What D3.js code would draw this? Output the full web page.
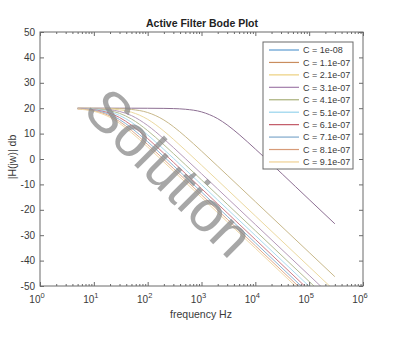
<!DOCTYPE html>
<html>
<head>
<meta charset="utf-8">
<script src="https://d3js.org/d3.v7.min.js"></script>
<style>
    body { margin: 0; background: #fff; }
    text { font-family: "Liberation Sans", Arial, sans-serif; }
</style>
</head>
<body>
<div id="chart"></div>
<script>
// frequencies (Hz) sampled along every curve
var freqs = [5, 10, 20, 30, 50, 100, 200, 300, 500, 1000, 2000, 3000, 5000, 1e4, 1e5, 3e5];

var labels = ['C = 1e-08', 'C = 1.1e-07', 'C = 2.1e-07', 'C = 3.1e-07', 'C = 4.1e-07',
    'C = 5.1e-07', 'C = 6.1e-07', 'C = 7.1e-07', 'C = 8.1e-07', 'C = 9.1e-07'];

// magnitude in dB for each C
var mag0 = [20.00, 20.00, 20.00, 20.00, 20.00, 19.98, 19.93, 19.85, 19.59, 18.55, 15.88, 13.42, 9.64, 3.93, -15.96, -25.51];
var mag1 = [19.99, 19.98, 19.92, 19.82, 19.51, 18.30, 15.36, 12.76, 8.88, 3.12, -2.83, -6.34, -10.77, -16.79, -36.79, -46.33];
var mag2 = [19.98, 19.93, 19.71, 19.37, 18.43, 15.62, 10.99, 7.78, 3.51, -2.43, -8.43, -11.95, -16.39, -22.41, -42.41, -51.95];
var mag3 = [19.96, 19.84, 19.39, 18.72, 17.10, 13.19, 7.91, 4.54, 0.18, -5.80, -11.81, -15.33, -19.77, -25.79, -45.79, -55.33];
var mag4 = [19.93, 19.72, 18.98, 17.97, 15.75, 11.17, 5.60, 2.17, -2.22, -8.23, -14.24, -17.76, -22.20, -28.22, -48.22, -57.76];
var mag5 = [19.89, 19.58, 18.51, 17.16, 14.48, 9.48, 3.76, 0.30, -4.11, -10.12, -16.14, -19.66, -24.09, -30.11, -50.11, -59.66];
var mag6 = [19.84, 19.40, 17.99, 16.34, 13.31, 8.04, 2.24, -1.25, -5.66, -11.67, -17.69, -21.21, -25.65, -31.67, -51.67, -61.21];
var mag7 = [19.79, 19.21, 17.46, 15.54, 12.24, 6.80, 0.94, -2.56, -6.98, -12.99, -19.01, -22.53, -26.97, -32.99, -52.99, -62.53];
var mag8 = [19.73, 19.00, 16.91, 14.77, 11.26, 5.70, -0.20, -3.69, -8.12, -14.13, -20.15, -23.68, -28.11, -34.13, -54.13, -63.68];
var mag9 = [19.66, 18.77, 16.37, 14.04, 10.37, 4.72, -1.20, -4.70, -9.13, -15.14, -21.17, -24.69, -29.12, -35.14, -55.14, -64.69];
var mags = [mag0, mag1, mag2, mag3, mag4, mag5, mag6, mag7, mag8, mag9];

var xTicks = [1, 10, 100, 1000, 1e4, 1e5, 1e6];
var yTicks = [-50, -40, -30, -20, -10, 0, 10, 20, 30, 40, 50];

var legendColors = ['#5b9bd0', '#c98d5e', '#ecd07e', '#a27daa', '#a9b07a', '#96d3ec', '#c25866', '#7fa8cc', '#d79b78', '#efd193'];
var lineColors = ['#8d6f93', '#c8b88a', '#ecd9a0', '#b59ab9', '#b3bd93', '#a9dbef', '#cf7a85', '#8fb3d2', '#e0ab8d', '#f0d9a8'];

var chart_width = 400;
var chart_height = 342;
var pLeft = 40, pRight = 363, pTop = 32, pBottom = 286;

var svg = d3.select('#chart')
    .append('svg')
    .attr('width', chart_width)
    .attr('height', chart_height);

var xScale = d3.scaleLog()
    .domain([1, 1e6])
    .range([pLeft, pRight]);

var yScale = d3.scaleLinear()
    .domain([-50, 50])
    .range([pBottom, pTop]);

svg.append('clipPath')
    .attr('id', 'clip')
    .append('rect')
    .attr('x', pLeft)
    .attr('y', pTop)
    .attr('width', pRight - pLeft)
    .attr('height', pBottom - pTop);

// curves
var line = d3.line()
    .x(function(d) { return xScale(d[0]); })
    .y(function(d) { return yScale(d[1]); })
    .curve(d3.curveMonotoneX);

svg.append('g')
    .attr('clip-path', 'url(#clip)')
    .selectAll('path')
    .data(mags)
    .enter()
    .append('path')
    .attr('d', function(m) {
        return line(freqs.map(function(f, i) { return [f, m[i]]; }));
    })
    .attr('fill', 'none')
    .attr('stroke', function(d, i) { return lineColors[i]; })
    .attr('stroke-width', 1);

// axes (box with inward ticks, like matlab)
var axisColor = '#6a6a6a';
var textColor = '#3a3a3a';

svg.append('rect')
    .attr('x', pLeft)
    .attr('y', pTop)
    .attr('width', pRight - pLeft)
    .attr('height', pBottom - pTop)
    .attr('fill', 'none')
    .attr('stroke', axisColor)
    .attr('stroke-width', 1);

var minor = [];
for (var k = 0; k < 6; k++) {
    for (var j = 2; j < 10; j++) minor.push(j * Math.pow(10, k));
}

var xAxisB = d3.axisBottom(xScale).tickValues(xTicks).tickSize(-4).tickFormat('');
var xAxisT = d3.axisTop(xScale).tickValues(xTicks).tickSize(-4).tickFormat('');
var xMinorB = d3.axisBottom(xScale).tickValues(minor).tickSize(-2).tickFormat('');
var xMinorT = d3.axisTop(xScale).tickValues(minor).tickSize(-2).tickFormat('');
var yAxisL = d3.axisLeft(yScale).tickValues(yTicks).tickSize(-4).tickFormat('');
var yAxisR = d3.axisRight(yScale).tickValues(yTicks).tickSize(-4).tickFormat('');

[[xAxisB, 0, pBottom], [xAxisT, 0, pTop], [xMinorB, 0, pBottom], [xMinorT, 0, pTop],
 [yAxisL, pLeft, 0], [yAxisR, pRight, 0]].forEach(function(a) {
    var g = svg.append('g')
        .attr('transform', 'translate(' + a[1] + ',' + a[2] + ')')
        .call(a[0]);
    g.select('.domain').remove();
    g.selectAll('line').attr('stroke', axisColor);
});

// y tick labels
svg.selectAll('.ylab')
    .data(yTicks)
    .enter()
    .append('text')
    .attr('class', 'ylab')
    .attr('x', pLeft - 5)
    .attr('y', function(d) { return yScale(d) + 3.5; })
    .attr('text-anchor', 'end')
    .attr('font-size', 10)
    .attr('fill', textColor)
    .text(function(d) { return d; });

// x tick labels 10^k
var xl = svg.selectAll('.xlab')
    .data(xTicks)
    .enter()
    .append('text')
    .attr('class', 'xlab')
    .attr('x', function(d) { return xScale(d) - 3; })
    .attr('y', 303)
    .attr('text-anchor', 'middle')
    .attr('font-size', 10)
    .attr('fill', textColor);
xl.append('tspan').text('10');
xl.append('tspan')
    .attr('dy', -5)
    .attr('font-size', 7.5)
    .text(function(d) { return Math.round(Math.log10(d)); });

// title and axis labels
svg.append('text')
    .attr('x', 202)
    .attr('y', 27)
    .attr('text-anchor', 'middle')
    .attr('font-size', 10.5)
    .attr('font-weight', 'bold')
    .attr('fill', '#222')
    .text('Active Filter Bode Plot');

svg.append('text')
    .attr('x', 201)
    .attr('y', 318)
    .attr('text-anchor', 'middle')
    .attr('font-size', 10.5)
    .attr('fill', textColor)
    .text('frequency Hz');

svg.append('text')
    .attr('transform', 'translate(16,157) rotate(-90)')
    .attr('text-anchor', 'middle')
    .attr('font-size', 10.5)
    .attr('fill', textColor)
    .text('|H(jw)| db');

// legend
var lg = svg.append('g');
lg.append('rect')
    .attr('x', 263)
    .attr('y', 42)
    .attr('width', 90)
    .attr('height', 127)
    .attr('fill', '#fff')
    .attr('stroke', axisColor)
    .attr('stroke-width', 1);

var rows = lg.selectAll('g.row')
    .data(labels)
    .enter()
    .append('g')
    .attr('class', 'row')
    .attr('transform', function(d, i) { return 'translate(0,' + (50 + i * 12.44) + ')'; });

rows.append('line')
    .attr('x1', 269)
    .attr('x2', 299)
    .attr('stroke', function(d, i) { return legendColors[i]; })
    .attr('stroke-width', 1.2);

rows.append('text')
    .attr('x', 303)
    .attr('y', 3.3)
    .attr('font-size', 9)
    .attr('fill', textColor)
    .text(function(d) { return d; });

// watermark over the plot
svg.append('text')
    .attr('transform', 'translate(170,172) rotate(45)')
    .attr('text-anchor', 'middle')
    .attr('dominant-baseline', 'central')
    .attr('font-size', 58)
    .attr('fill', '#8a8a8a')
    .attr('fill-opacity', 0.75)
    .text('Solution');
</script>
</body>
</html>
